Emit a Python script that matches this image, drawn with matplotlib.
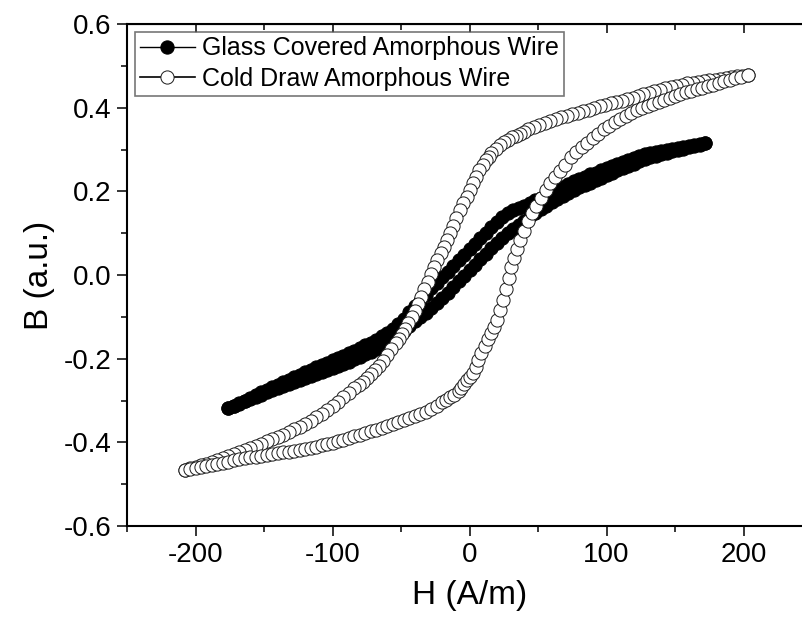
import numpy as np
import matplotlib.pyplot as plt

plt.rcParams['font.family'] = ['Liberation Sans', 'DejaVu Sans']
plt.rcParams['axes.unicode_minus'] = False

# glass covered wire, field going down (upper branch)
H_glass_dn = [172, 168, 164, 160, 156, 152, 148, 144, 140, 136, 132, 128, 124, 120, 116, 112, 108,
              104, 100, 96, 92, 88, 84, 80, 76, 72, 68, 64, 60, 56, 52, 48, 44, 40, 36, 32, 28, 24,
              20, 16, 12, 8, 4, 0, -4, -8, -12, -16, -20, -24, -28, -32, -36, -40, -44, -48, -52,
              -56, -60, -64, -68, -72, -76, -80, -84, -88, -92, -96, -100, -104, -108, -112, -116,
              -120, -124, -128, -132, -136, -140, -144, -148, -152, -156, -160, -164, -168, -172,
              -176]
B_glass_dn = [0.315, 0.313, 0.310, 0.309, 0.306, 0.304, 0.302, 0.300, 0.297, 0.295, 0.291, 0.289,
              0.284, 0.280, 0.275, 0.271, 0.266, 0.260, 0.256, 0.251, 0.245, 0.241, 0.235, 0.230,
              0.224, 0.218, 0.211, 0.205, 0.198, 0.191, 0.185, 0.179, 0.172, 0.166, 0.160, 0.155,
              0.149, 0.139, 0.126, 0.114, 0.101, 0.088, 0.075, 0.061, 0.048, 0.035, 0.021, 0.008,
              -0.005, -0.018, -0.032, -0.047, -0.061, -0.075, -0.089, -0.104, -0.118, -0.130,
              -0.139, -0.147, -0.155, -0.162, -0.168, -0.175, -0.181, -0.187, -0.194, -0.199,
              -0.204, -0.210, -0.215, -0.220, -0.227, -0.233, -0.239, -0.244, -0.251, -0.256,
              -0.263, -0.268, -0.274, -0.280, -0.287, -0.293, -0.300, -0.306, -0.313, -0.319]
# glass covered wire, field going up (lower branch)
H_glass_up = [-176, -172, -168, -164, -160, -156, -152, -148, -144, -140, -136, -132, -128, -124,
              -120, -116, -112, -108, -104, -100, -96, -92, -88, -84, -80, -76, -72, -68, -64, -60,
              -56, -52, -48, -44, -40, -36, -32, -28, -24, -20, -16, -12, -8, -4, 0, 4, 8, 12, 16,
              20, 24, 28, 32, 36, 40, 44, 48, 52, 56, 60, 64, 68, 72, 76, 80, 84, 88, 92, 96, 100,
              104, 108, 112, 116, 120, 124, 128, 132, 136, 140, 144, 148, 152, 156, 160, 164, 168,
              172]
B_glass_up = [-0.319, -0.313, -0.308, -0.302, -0.297, -0.291, -0.286, -0.280, -0.276, -0.271,
              -0.266, -0.261, -0.256, -0.251, -0.247, -0.241, -0.236, -0.231, -0.226, -0.222,
              -0.217, -0.212, -0.207, -0.201, -0.195, -0.190, -0.184, -0.177, -0.171, -0.163,
              -0.156, -0.146, -0.134, -0.121, -0.111, -0.101, -0.091, -0.080, -0.068, -0.055,
              -0.042, -0.029, -0.015, -0.002, 0.011, 0.025, 0.038, 0.051, 0.064, 0.076, 0.089,
              0.101, 0.111, 0.120, 0.130, 0.140, 0.149, 0.157, 0.165, 0.174, 0.181, 0.189, 0.196,
              0.202, 0.210, 0.215, 0.221, 0.227, 0.233, 0.238, 0.244, 0.250, 0.255, 0.261, 0.266,
              0.272, 0.277, 0.281, 0.285, 0.289, 0.292, 0.296, 0.298, 0.302, 0.305, 0.308, 0.311,
              0.315]

# cold drawn wire, field going down
H_cold_dn = [203, 199, 195, 191, 187, 183, 179, 175, 171, 167, 163, 159, 155, 151, 147, 143, 139,
             135, 131, 127, 123, 119, 115, 111, 107, 103, 99, 95, 91, 87, 83, 79, 75, 71, 67, 63,
             59, 55, 51, 47, 43, 40, 37, 34, 31, 28, 25, 22, 19, 16, 14, 12, 9.5, 7, 4.7, 2.4, 0.2,
             -2, -4.5, -7, -9.5, -12, -14.2, -16.4, -18.7, -21, -23.4, -25.8, -28.2, -30.5, -32.9,
             -35.3, -37.6, -40, -42.3, -44.7, -47, -49, -51.5, -54, -57, -60, -63, -66, -69, -72,
             -75, -78, -81, -84, -88, -92, -96, -100, -104, -108, -112, -116, -120, -124, -128,
             -132, -136, -140, -144, -148, -152, -156, -160, -164, -168, -172, -176, -180, -184,
             -188, -192, -196, -200, -204, -208]
B_cold_dn = [0.478, 0.476, 0.475, 0.473, 0.471, 0.469, 0.467, 0.466, 0.464, 0.462, 0.460, 0.458,
             0.455, 0.452, 0.449, 0.446, 0.443, 0.440, 0.436, 0.432, 0.428, 0.424, 0.421, 0.417,
             0.413, 0.410, 0.406, 0.403, 0.399, 0.395, 0.391, 0.387, 0.384, 0.380, 0.377, 0.373,
             0.369, 0.364, 0.359, 0.354, 0.348, 0.343, 0.338, 0.333, 0.329, 0.323, 0.317, 0.310,
             0.301, 0.291, 0.283, 0.275, 0.263, 0.250, 0.235, 0.219, 0.203, 0.187, 0.171, 0.155,
             0.136, 0.118, 0.101, 0.084, 0.068, 0.052, 0.036, 0.020, 0.002, -0.016, -0.034,
             -0.052, -0.069, -0.085, -0.100, -0.115, -0.128, -0.140, -0.152, -0.163, -0.178,
             -0.192, -0.205, -0.217, -0.227, -0.237, -0.247, -0.255, -0.263, -0.271, -0.282,
             -0.292, -0.303, -0.313, -0.323, -0.332, -0.340, -0.348, -0.356, -0.363, -0.369,
             -0.375, -0.382, -0.388, -0.393, -0.398, -0.403, -0.408, -0.413, -0.418, -0.423,
             -0.428, -0.433, -0.438, -0.443, -0.447, -0.451, -0.455, -0.458, -0.462, -0.466]
# cold drawn wire, field going up
H_cold_up = [-208, -204, -200, -196, -192, -188, -184, -180, -176, -172, -168, -164, -160, -156,
             -152, -148, -144, -140, -136, -132, -128, -124, -120, -116, -112, -108, -104, -100,
             -96, -92, -88, -84, -80, -76, -72, -68, -64, -60, -56, -52, -48, -44, -40, -36, -32,
             -28, -24, -20, -17, -14, -11, -8, -6, -4, -2, 0, 2.4, 4.5, 6.5, 8.7, 11, 13.5, 16,
             18.1, 20, 22.2, 24.4, 26.5, 28.5, 30.6, 32.7, 34.8, 36.9, 39.5, 42.5, 45.5, 48.5, 52,
             55.5, 59, 62.5, 66, 70, 74, 78, 82, 86, 90, 94, 98, 102, 106, 110, 114, 118, 122, 126,
             130, 134, 138, 142, 146, 150, 154, 158, 162, 166, 170, 174, 178, 182, 186, 190, 194,
             198, 203]
B_cold_up = [-0.466, -0.464, -0.462, -0.459, -0.457, -0.454, -0.452, -0.449, -0.446, -0.443,
             -0.441, -0.438, -0.436, -0.434, -0.432, -0.430, -0.428, -0.426, -0.424, -0.422,
             -0.420, -0.418, -0.416, -0.413, -0.410, -0.407, -0.404, -0.401, -0.397, -0.394,
             -0.390, -0.386, -0.382, -0.378, -0.374, -0.370, -0.366, -0.361, -0.357, -0.352,
             -0.347, -0.342, -0.337, -0.332, -0.327, -0.320, -0.312, -0.304, -0.298, -0.292,
             -0.286, -0.277, -0.270, -0.261, -0.252, -0.244, -0.235, -0.219, -0.203, -0.187,
             -0.170, -0.153, -0.138, -0.124, -0.108, -0.084, -0.060, -0.034, -0.007, 0.020, 0.041,
             0.063, 0.084, 0.106, 0.128, 0.149, 0.166, 0.185, 0.203, 0.219, 0.234, 0.248, 0.264,
             0.281, 0.293, 0.305, 0.316, 0.327, 0.338, 0.349, 0.357, 0.365, 0.372, 0.380, 0.387,
             0.394, 0.399, 0.404, 0.408, 0.413, 0.418, 0.423, 0.428, 0.433, 0.438, 0.441, 0.445,
             0.448, 0.452, 0.455, 0.459, 0.463, 0.467, 0.470, 0.474, 0.478]

H_glass = H_glass_dn + H_glass_up
B_glass = B_glass_dn + B_glass_up
H_cold = H_cold_dn + H_cold_up
B_cold = B_cold_dn + B_cold_up

fig = plt.figure(figsize=(8.02, 6.28), dpi=100)
ax = fig.add_axes([127/802, 1-526/628, 685/802, 502/628])

ax.plot(H_glass, B_glass, '-o', color='black', lw=1.0, ms=9.5, mfc='black', mec='black', mew=0.8,
        label='Glass Covered Amorphous Wire')
ax.plot(H_cold, B_cold, '-o', color='black', lw=1.2, ms=9.5, mfc='white', mec='#1a1a1a', mew=0.7,
        label='Cold Draw Amorphous Wire')

ax.set_xlim(-250, 250)
ax.set_ylim(-0.6, 0.6)
ax.set_xticks([-200, -100, 0, 100, 200])
ax.set_xticks(np.arange(-250, 251, 50), minor=True)
ax.set_yticks(np.arange(-0.6, 0.61, 0.2))
ax.set_yticks(np.arange(-0.6, 0.61, 0.1), minor=True)
ax.yaxis.set_major_formatter(plt.FormatStrFormatter('%.1f'))

for s in ax.spines.values():
    s.set_linewidth(1.5)
ax.tick_params(which='major', direction='out', length=7.2, width=1.1, labelsize=20, pad=4)
ax.tick_params(which='minor', direction='out', length=4, width=1.1)

# top and right axes: ticks pointing inward, no labels
top = ax.secondary_xaxis('top')
top.set_xticks([-200, -100, 0, 100, 200])
top.set_xticks(np.arange(-250, 251, 50), minor=True)
top.tick_params(which='major', direction='in', length=6.5, width=1.1, labeltop=False)
top.tick_params(which='minor', direction='in', length=4, width=1.1)
right = ax.secondary_yaxis('right')
right.set_yticks(np.arange(-0.6, 0.61, 0.2))
right.set_yticks(np.arange(-0.6, 0.61, 0.1), minor=True)
right.tick_params(which='major', direction='in', length=7.2, width=1.1, labelright=False)
right.tick_params(which='minor', direction='in', length=4, width=1.1)

ax.set_xlabel('H (A/m)', fontsize=24, labelpad=9)
ax.set_ylabel('B (a.u.)', fontsize=24, labelpad=6)

leg = ax.legend(loc='upper left', fontsize=18, frameon=True, fancybox=False, borderaxespad=0.3,
                borderpad=0.2, labelspacing=0.25, handlelength=2.2, handletextpad=0.3)
leg.get_frame().set_edgecolor('#555555')
leg.get_frame().set_linewidth(1.2)

fig.savefig('out.png', dpi=100)
